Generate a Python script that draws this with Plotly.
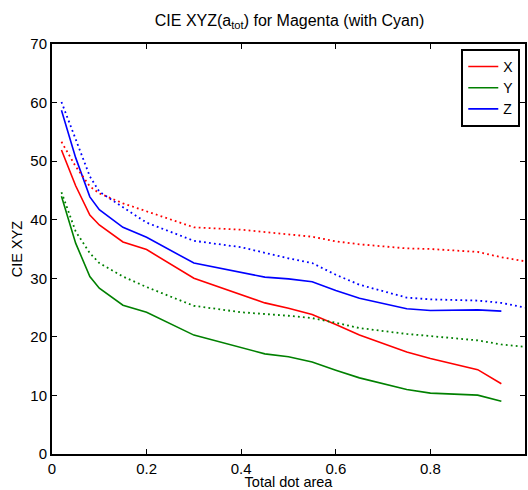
import plotly.graph_objects as go

# ---- data ----
x_solid = [0.02, 0.05, 0.08, 0.1, 0.15, 0.2, 0.3, 0.45, 0.5, 0.55, 0.6, 0.65, 0.75, 0.8, 0.9, 0.95]
X_solid = [51.9, 45.8, 40.8, 39.1, 36.2, 34.9, 30.0, 25.8, 24.9, 23.8, 22.1, 20.3, 17.4, 16.3, 14.4, 12.0]
Y_solid = [44.0, 36.0, 30.3, 28.3, 25.4, 24.2, 20.3, 17.1, 16.6, 15.7, 14.3, 13.0, 11.0, 10.4, 10.05, 9.0]
Z_solid = [58.7, 50.6, 43.9, 41.7, 38.7, 37.0, 32.6, 30.2, 29.9, 29.4, 27.9, 26.6, 24.8, 24.5, 24.6, 24.4]

x_dot = [0.02, 0.05, 0.08, 0.1, 0.15, 0.2, 0.3, 0.4, 0.5, 0.55, 0.6, 0.65, 0.75, 0.8, 0.9, 0.95, 1.0]
X_dot = [53.3, 49.1, 45.7, 44.5, 42.8, 41.4, 38.7, 38.3, 37.5, 37.1, 36.3, 35.8, 35.1, 35.0, 34.5, 33.6, 32.9]
Y_dot = [44.7, 38.0, 34.3, 32.6, 30.3, 28.5, 25.3, 24.2, 23.6, 23.2, 22.4, 21.5, 20.5, 20.1, 19.4, 18.7, 18.3]
Z_dot = [60.1, 53.9, 47.4, 44.8, 42.2, 39.5, 36.4, 35.3, 33.4, 32.6, 30.6, 28.9, 26.7, 26.4, 26.2, 25.8, 25.0]

x_ticks = [0, 0.2, 0.4, 0.6, 0.8, 1]
x_ticklabels = ["0", "0.2", "0.4", "0.6", "0.8", "1"]
y_ticks = [0, 10, 20, 30, 40, 50, 60, 70]

names = ["X", "Y", "Z"]
colors = ["#ff0000", "#008000", "#0000ff"]

fig = go.Figure()
for name, col, ys in zip(names, colors, [X_solid, Y_solid, Z_solid]):
    fig.add_trace(go.Scatter(x=x_solid, y=ys, mode="lines", name=name,
                             line=dict(color=col, width=1.6)))
for name, col, ys in zip(names, colors, [X_dot, Y_dot, Z_dot]):
    fig.add_trace(go.Scatter(x=x_dot, y=ys, mode="lines", name=name + " (dotted)",
                             showlegend=False,
                             line=dict(color=col, width=1.8, dash="1.8px,3.2px")))

font_family = "Liberation Sans, Arial, Helvetica, sans-serif"
axis_common = dict(showgrid=False, zeroline=False, showline=True, linecolor="black",
                   linewidth=2, mirror="ticks", ticks="inside", ticklen=5,
                   tickwidth=1, tickcolor="black",
                   tickfont=dict(family=font_family, size=15, color="black"))

fig.update_layout(
    width=528, height=490,
    margin=dict(l=52, r=1, t=44, b=36),
    paper_bgcolor="white", plot_bgcolor="white",
    font=dict(family=font_family, color="black"),
    title=dict(text="CIE XYZ(a<sub>tot</sub>) for Magenta (with Cyan)",
               x=(52 + 527) / 2 / 528, xanchor="center", y=1 - 20 / 490, yanchor="middle",
               font=dict(family=font_family, size=16, color="black")),
    xaxis=dict(range=[0, 1], tickvals=x_ticks, ticktext=x_ticklabels,
               title=dict(text="Total dot area", standoff=1,
                          font=dict(family=font_family, size=14.5, color="black")),
               **axis_common),
    yaxis=dict(range=[0, 70], tickvals=y_ticks,
               title=dict(text="CIE XYZ", standoff=4,
                          font=dict(family=font_family, size=14.5, color="black")),
               **axis_common),
    legend=dict(x=0.99, y=0.988, xanchor="right", yanchor="top",
                bgcolor="white", bordercolor="black", borderwidth=2,
                font=dict(family=font_family, size=14, color="black"),
                tracegroupgap=0, itemwidth=30),
)

fig.write_html("out.html", config={"displayModeBar": False},
               post_script="document.body.style.margin='0';document.body.style.padding='0';")
